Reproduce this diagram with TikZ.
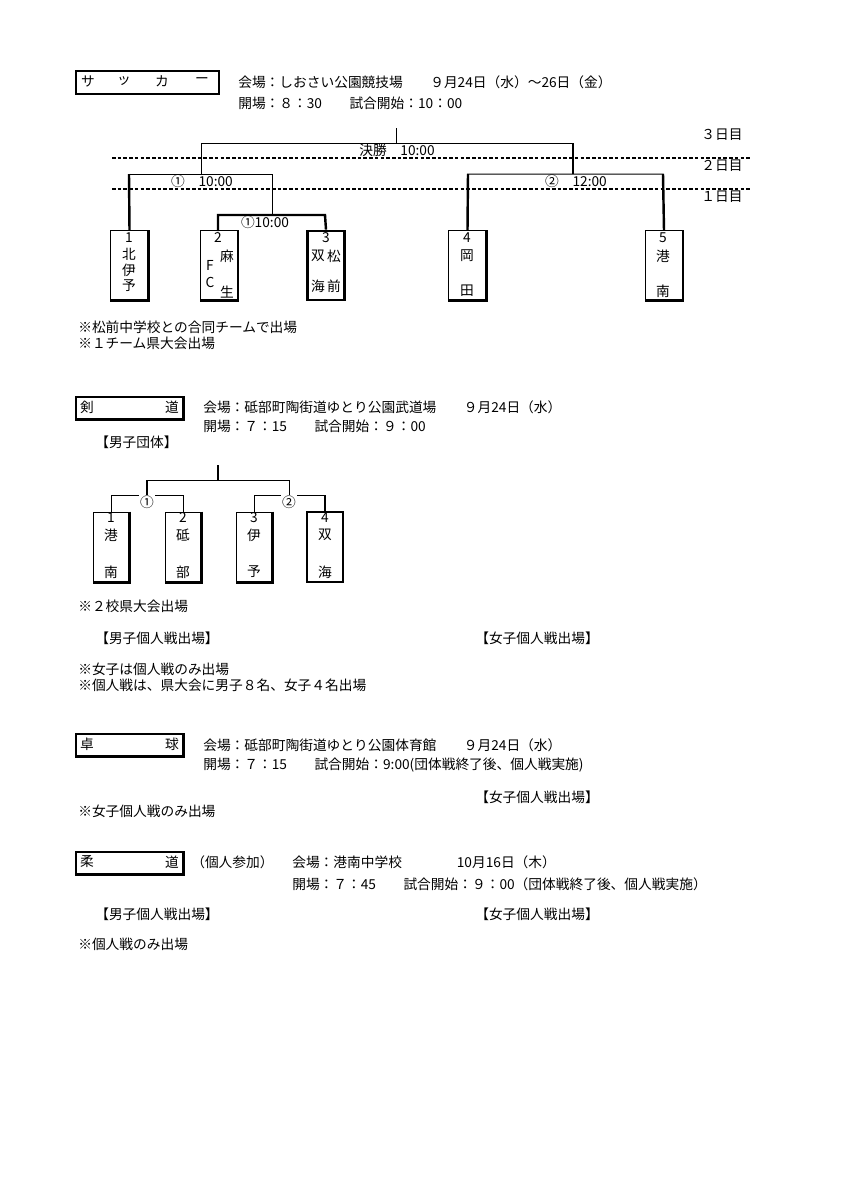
\documentclass[tikz,border=0pt]{standalone}
\usepackage{fontspec}
\setmainfont{Noto Sans CJK JP}
\begin{document}
\begin{tikzpicture}[x=0.7pt,y=-0.7pt,font=\fontsize{9.6}{11}\selectfont,
  every node/.style={inner sep=0pt},
  tx/.style={anchor=west},
  ln/.style={line width=0.7pt},
  tk/.style={line width=1.7pt},
  dl/.style={line width=1pt,dashed,dash pattern=on 2.5pt off 1.5pt},
  tbox/.style={draw,line width=0.7pt,minimum width=26pt,minimum height=48.5pt},
  hbox/.style={draw,line width=1.7pt,minimum width=26pt,minimum height=48.5pt},
  kbox/.style={draw,line width=0.7pt,minimum width=25pt,minimum height=49pt},
  title/.style={draw,line width=1.7pt,anchor=north west}]
\useasboundingbox (0,0) rectangle (849,1201);
% ---------- Soccer
\node[title,minimum width=100pt,minimum height=16pt] (st) at (75,70) {};
\node at (88,81) {サ};\node at (124,81) {ッ};\node at (162,81) {カ};\node at (202,81) {ー};
\node[tx] (sv) at (238,82) {会場：しおさい公園競技場　　９月24日（水）～26日（金）};
\node[tx] (so) at (238,103) {開場：８：30　　試合開始：10：00};
\node (d3) at (722,135) {３日目};
\node (d2) at (722,166) {２日目};
\node (d1) at (722,197) {１日目};
\coordinate (dl1) at (112,158); \coordinate (dr1) at (752,158);
\coordinate (dl2) at (112,189); \coordinate (dr2) at (752,189);
\draw[dl] (dl1)--(dr1); \draw[dl] (dl2)--(dr2);
\node[tbox] (s1) at (129.5,265.5) {};
\node[tbox] (s2) at (219,265.5) {};
\node[hbox] (s3) at (326,265.5) {};
\node[tbox] (s4) at (467.5,265.5) {};
\node[tbox] (s5) at (664,265.5) {};
\foreach \b in {s1,s2,s4,s5}{\draw[tk] (\b.north east)--(\b.south east)--(\b.south west);}
% box texts
\node at (129,238) {1};\node at (129,254) {北};\node at (129,270) {伊};\node at (129,286) {予};
\node at (218,238) {2};\node at (227,256) {麻};\node at (210,265) {F};\node at (210,282) {C};\node at (227,292) {生};
\node at (326,238) {3};\node at (318,256) {双};\node at (334,256) {松};\node at (318,286) {海};\node at (334,286) {前};
\node at (467,238) {4};\node at (467,256) {岡};\node at (467,291) {田};
\node at (663,238) {5};\node at (663,256) {港};\node at (663,291) {南};
% bracket
\coordinate (fin) at (396,128);
\draw[ln] (fin)--(396,143);
\draw[ln] (201,174)--(201,143)--(573,143);
\draw[tk] (573,143)--(573,174);
\node (fl) at (397,150) {決勝　10:00};
\draw[ln] (129,231)|-(272,174)--(272,215);
\draw[tk] (s1.north)--(129,174);
\node at (202,181) {①　10:00};
\draw[tk] (218,231)|-(325,215)--(s3.north);
\node at (265,222) {①10:00};
\draw[ln] (s4.north)|-(663,174)--(s5.north);
\draw[tk] (s4.north)--(468,174);\draw[tk] (s5.north)--(663,174);
\node at (576,181) {②　12:00};
\node[tx] at (78,327) {※松前中学校との合同チームで出場};
\node[tx] at (78,343) {※１チーム県大会出場};
% ---------- Kendo
\node[title,minimum width=75pt,minimum height=15.5pt] (kt) at (75,396) {};
\node at (87,407) {剣};\node at (172,407) {道};
\node[tx] at (203,407) {会場：砥部町陶街道ゆとり公園武道場　　９月24日（水）};
\node[tx] at (203,426) {開場：７：15　　試合開始：９：00};
\node[tx] at (95,442) {【男子団体】};
\node[kbox] (k1) at (111,547) {};
\node[kbox] (k2) at (183,547) {};
\node[kbox] (k3) at (254,547) {};
\node[hbox,minimum width=25pt,minimum height=49pt] (k4) at (325,547) {};
\foreach \b in {k1,k2,k3}{\draw[tk] (\b.north east)--(\b.south east)--(\b.south west);}
\node at (111,518) {1};\node at (111,535) {港};\node at (111,572) {南};
\node at (183,518) {2};\node at (183,535) {砥};\node at (183,572) {部};
\node at (254,518) {3};\node at (254,535) {伊};\node at (254,572) {予};
\node at (325,518) {4};\node at (325,535) {双};\node at (325,572) {海};
\draw[tk] (218,465)--(218,480);
\draw[ln] (147,495)--(147,480)--(289,480)--(289,495);
\draw[tk] (147,480)--(147,495);
\draw[ln] (k1.north)|-(183,495)--(k2.north);
\draw[ln] (k3.north)|-(325,495);
\draw[tk] (325,495)--(k4.north);
\node[fill=white,inner sep=0.5pt] at (147,502) {①};
\node[fill=white,inner sep=0.5pt] at (289,502) {②};
\node[tx] at (78,606) {※２校県大会出場};
\node[tx] at (95,638) {【男子個人戦出場】};
\node[tx] at (475,638) {【女子個人戦出場】};
\node[tx] at (78,669) {※女子は個人戦のみ出場};
\node[tx] at (78,685) {※個人戦は、県大会に男子８名、女子４名出場};
% ---------- Table tennis
\node[title,minimum width=75pt,minimum height=15.5pt] (tt) at (75,733) {};
\node at (87,744) {卓};\node at (172,744) {球};
\node[tx] at (203,745) {会場：砥部町陶街道ゆとり公園体育館　　９月24日（水）};
\node[tx] at (203,765) {開場：７：15　　試合開始：9:00(団体戦終了後、個人戦実施)};
\node[tx] at (475,797) {【女子個人戦出場】};
\node[tx] at (78,811) {※女子個人戦のみ出場};
% ---------- Judo
\node[title,minimum width=75pt,minimum height=15.5pt] (jt) at (75,851) {};
\node at (87,862) {柔};\node at (172,862) {道};
\node[tx] at (191,862) {（個人参加）};
\node[tx] at (292,862) {会場：港南中学校　　　　10月16日（木）};
\node[tx] at (292,884) {開場：７：45　　試合開始：９：00（団体戦終了後、個人戦実施）};
\node[tx] at (95,914) {【男子個人戦出場】};
\node[tx] at (475,914) {【女子個人戦出場】};
\node[tx] at (78,944) {※個人戦のみ出場};
\end{tikzpicture}
\end{document}
